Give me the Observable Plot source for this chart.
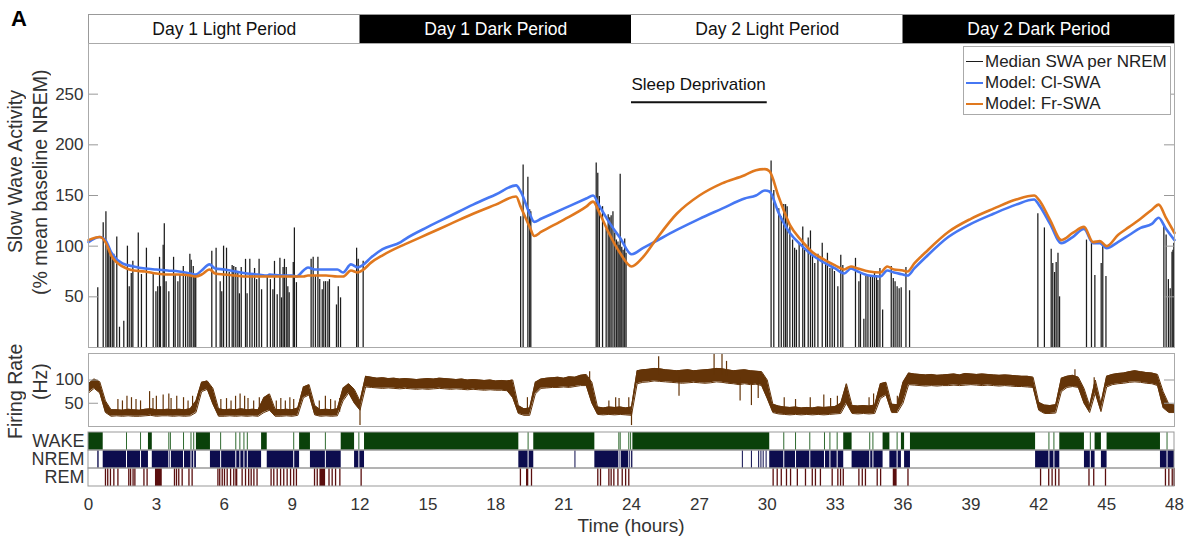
<!DOCTYPE html>
<html><head><meta charset="utf-8">
<script src="https://cdn.jsdelivr.net/npm/d3@7"></script>
<script src="https://cdn.jsdelivr.net/npm/@observablehq/plot@0.6"></script>
<style>
body{margin:0;background:#fff;font-family:"Liberation Sans",Arial,sans-serif;}
#fig{position:relative;width:1195px;height:546px;overflow:hidden;background:#fff;}
.vt{position:absolute;writing-mode:vertical-rl;transform:rotate(180deg);text-align:center;color:#333;white-space:nowrap;}
.lab{position:absolute;color:#333;white-space:nowrap;}
#legend{position:absolute;left:963px;top:46px;width:208px;height:69px;border:1px solid #aaa;background:#fff;box-sizing:border-box;}
#legend .row{position:absolute;left:2px;width:200px;height:20px;font-size:17px;line-height:20px;color:#222;white-space:nowrap;}
#legend .sw{position:absolute;left:0;top:9px;width:17px;height:0;}
#legend .tx{position:absolute;left:19px;top:0;white-space:nowrap;}
</style></head><body><div id="fig"></div>
<script>
// ---------- DATA ----------
const periodStart = [0, 12, 24, 36];
const periodEnd = [12, 24, 36, 48];
const periodLabel = ["Day 1 Light Period", "Day 1 Dark Period", "Day 2 Light Period", "Day 2 Dark Period"];
const periodDark = [false, true, false, true];

const sdStart = 24, sdEnd = 30, sdLabel = "Sleep Deprivation";

const swaTicks = [50, 100, 150, 200, 250];
const rateTicks = [50, 100];
const xTicks = [0, 3, 6, 9, 12, 15, 18, 21, 24, 27, 30, 33, 36, 39, 42, 45, 48];

// Median SWA per NREM episode (time in hours, % of baseline)
const swaT = [0.41,0.65,0.77,0.85,0.9,0.97,1.05,1.12,1.25,1.37,1.56,1.72,1.8,1.89,1.96,2.2,2.34,2.56,2.86,2.98,3.06,3.14,3.18,3.3,3.35,3.43,3.55,3.76,3.83,3.95,4.04,4.19,4.29,4.39,4.48,4.54,4.63,4.7,4.74,
5.45,5.64,5.82,5.89,5.97,6.1,6.22,6.35,6.42,6.51,6.6,6.67,6.75,6.94,7.01,7.13,7.23,7.34,7.43,7.54,7.65,7.9,8.04,8.15,8.22,8.34,8.46,8.53,8.6,8.66,8.74,8.81,8.87,9.05,9.1,9.19,
9.84,9.93,10.03,10.14,10.22,10.33,10.4,10.48,10.58,10.65,10.96,11.04,11.14,11.85,11.92,12.14,
19.1,19.21,19.42,19.5,19.55,22.44,22.51,22.58,22.72,22.88,22.97,23.04,23.1,23.18,23.26,23.33,23.4,23.45,23.5,23.57,23.63,23.7,23.76,
30.17,30.29,30.51,30.62,30.73,30.81,30.88,31.0,31.12,31.21,31.29,31.41,31.57,31.65,31.81,31.91,32.0,32.1,32.24,32.43,32.58,32.66,32.77,32.87,32.97,33.12,33.25,33.34,
33.9,34.05,34.12,34.27,34.36,34.45,34.56,34.65,34.74,34.83,34.89,34.98,35.1,35.48,35.57,35.65,35.74,35.83,35.92,36.13,36.29,
41.96,42.25,42.55,42.62,42.7,42.77,42.85,42.92,44.11,44.33,44.48,44.76,44.83,44.97,47.53,47.63,47.73,47.81,47.89,47.93,47.97];
const swaV = [59,123,134,101,97,90,89,92,109,20,26,100,60,73,85,113,72,98,72,55,60,89,60,101,122,65,55,89,71,65,71,80,71,74,92,86,80,72,71,
95,98,65,55,100,98,74,81,80,79,74,53,79,87,53,87,71,78,67,87,57,71,67,57,85,52,88,49,79,87,79,60,54,84,118,64,
87,89,71,89,67,57,65,65,65,67,42,60,49,98,87,85,
129,180,168,136,134,182,172,149,139,117,131,128,130,134,113,106,104,101,171,99,96,107,93,
184,155,137,129,141,141,139,119,106,98,96,103,119,96,108,115,91,83,92,103,83,93,78,78,75,60,91,81,
88,65,72,28,70,71,71,71,75,71,66,78,37,80,68,65,60,58,59,79,56,
132,118,97,83,74,84,93,50,106,103,71,83,100,70,121,111,67,58,94,96,103];

// Model curves (time in hours)
const modelT = [0,0.5,0.75,1,1.5,2,2.5,3,3.5,4,4.5,4.75,5,5.35,5.6,6,6.5,7,7.5,7.9,8,8.5,9,9.2,9.5,9.7,10,10.5,11,11.25,11.6,11.9,12.1,12.5,13,13.8,14,15,16,17,18,18.9,19.1,19.5,19.7,20,21,22,22.3,22.6,23,23.5,24,24.5,25,26,27,28,29,29.5,29.9,30.1,30.5,31,31.5,32,32.5,33,33.4,33.7,34,34.5,35,35.3,35.6,36,36.2,36.5,37,38,39,40,41,41.8,42,42.5,43,43.5,44,44.4,44.7,45,45.5,46,46.5,47,47.3,47.6,48];
const clSWA = [104,109,106,94,83,80,78,77,76,75,73,72,76,82,78,77,75,73,72,71,72,71,71,70,76,79,77,77,77,74,82,79,81,89,97,104,107,119,130,141,151,160,154,132,124,127,137,147,150,139,124,108,92,98,104,116,127,137,147,150,155,154,133,113,101,91,84,78,73,78,75,71,70,76,74,72,71,78,89,109,122,132,141,146,141,122,103,109,117,103,103,98,104,111,118,122,128,118,106];
const frSWA = [106,109,104,91,80,76,75,73,72,72,71,70,72,77,73,72,71,70,70,70,70,70,70,70,70,71,71,71,70,70,76,74,76,84,91,100,102,112,122,132,141,149,139,119,110,114,126,139,144,132,113,93,80,89,104,132,150,162,170,175,176,174,149,121,106,94,87,81,77,80,78,75,74,80,77,76,75,83,94,114,127,137,146,150,146,126,106,113,119,104,105,100,111,119,127,136,141,129,113];

// Firing rate band, one sample every 0.25 h from 0 to 48 (Hz)
const rateLo = [72,82,72,30,22,23,22,23,22,22,23,24,22,23,23,22,23,22,23,30,
75,80,48,22,22,23,22,23,22,23,22,30,35,22,22,23,22,24,62,68,
25,22,23,22,23,55,72,50,35,
85,84,83,82,83,82,81,82,81,80,81,80,81,82,81,80,81,80,79,80,79,78,79,78,78,77,
62,28,24,24,70,
82,83,84,84,85,84,86,88,88,
50,26,25,26,25,26,25,24,
92,95,96,98,97,96,95,94,93,94,95,94,93,94,96,95,93,92,90,92,90,91,88,60,
30,27,26,25,26,25,26,25,26,25,26,27,28,50,28,27,28,27,28,60,68,30,30,50,
90,89,88,87,88,87,88,88,89,88,89,90,89,88,89,88,87,88,87,86,86,85,84,
35,28,28,29,75,84,86,84,50,30,72,32,85,90,92,93,95,96,95,93,92,88,40,30,30];
const rateHi = [92,102,96,55,36,36,35,37,36,35,37,38,36,36,37,36,37,36,38,55,
95,98,82,38,36,37,36,38,36,37,36,62,70,37,36,37,36,40,85,90,
45,36,37,36,38,82,92,80,55,
108,106,104,105,103,104,102,103,102,101,102,103,102,104,103,102,101,102,100,101,100,99,100,98,99,98,
100,45,38,40,95,
102,104,105,106,104,107,106,110,112,
95,42,40,42,41,42,40,42,
120,122,123,125,124,122,121,120,121,122,120,121,122,123,125,124,122,120,121,122,120,119,118,100,
48,44,42,41,42,40,41,40,42,41,42,43,50,92,45,44,45,44,46,92,95,48,47,95,
115,113,112,111,112,110,111,112,113,111,114,113,112,113,112,111,110,111,110,109,108,108,106,
52,46,45,47,104,108,110,106,82,45,100,50,108,112,114,115,118,120,118,116,115,112,75,48,46];
// brief excursions of the firing rate (time h, extreme Hz)
const rateSpikeT = [1.3,1.5,1.7,1.9,2.1,2.3,2.7,2.85,3.0,3.3,3.55,3.65,3.9,4.2,4.4,4.6,5.85,6.1,6.3,6.5,6.7,6.9,7.05,7.3,7.55,8.3,8.5,8.7,8.9,9.07,10.2,10.47,10.7,10.9,11.1,12.0,19.4,22.15,23.0,23.3,23.45,23.88,24.0,25.2,26.1,27.65,28.0,28.2,28.8,29.3,29.6,30.75,31.25,31.9,32.5,32.8,33.1,34.5,34.7,35.75,35.9,43.6,44.45];
const rateSpikeV = [58,55,65,62,58,55,75,60,65,68,70,60,65,62,55,65,58,60,55,65,70,65,60,55,62,55,60,55,62,58,55,65,58,55,60,2,62,118,55,62,60,62,2,150,65,157,157,140,55,45,60,62,58,62,68,60,65,62,70,65,72,122,105];

// Hypnogram
const stages = ["WAKE", "NREM", "REM"];
const wakeS = [0,2.65,4.77,7.65,9.33,11.17,12.2,19.68,24.06,33.38,35.12,35.93,36.33,42.93,44.49,45.02];
const wakeE = [0.65,2.82,5.39,7.9,9.81,11.76,19.02,22.38,30.11,33.75,35.42,36.07,41.86,44.02,44.77,47.38];
const nremS = [0.41,0.65,2.82,5.39,7.9,9.81,11.76,19.02,22.38,30.11,33.75,35.42,36.07,41.86,44.02,44.77,47.38];
const nremE = [0.47,2.65,4.77,7.65,9.33,11.17,12.2,19.68,24.06,33.38,35.12,35.93,36.33,42.93,44.49,45.02,48];
const wakeTicks = [1.68,2.3,3.55,3.62,4.2,4.53,4.65,5.84,6.51,6.69,6.87,7.02,9.07,10.47,11.95,19.43,23.44,23.5,23.88,23.96,30.73,31.25,31.88,32.53,32.77,33.09,34.53,34.67,35.74,42.45,42.67,44.28,47.67];
const nremTicks = [21.5,28.9,29.3,29.62,29.72,29.82,29.95];
const remS = [2.96,6.51,10.23,19.36,35.57];
const remE = [3.26,6.6,10.48,19.46,35.74];
const remTicks = [0.75,0.85,0.97,1.12,1.3,1.78,1.86,1.97,2.05,2.45,2.59,3.8,3.89,3.99,4.14,4.44,4.58,5.72,5.8,5.91,6.01,6.13,6.28,6.42,6.79,6.94,7.08,7.19,7.31,7.45,8.07,8.19,8.34,8.49,8.63,8.78,8.93,9.07,9.19,9.99,10.11,10.63,10.77,10.92,11.11,12.05,19.09,19.58,22.51,22.63,23.0,23.1,23.22,23.4,23.59,23.74,23.88,30.26,30.44,30.62,30.85,31.03,31.33,31.69,31.99,32.13,32.35,32.87,33.12,33.24,33.36,34.05,34.2,34.34,34.86,35.01,36.22,42.08,42.44,42.59,42.74,42.89,44.22,44.43,44.95,47.6,47.75,47.9,47.98];

const legendLabels = ["Median SWA per NREM", "Model: Cl-SWA", "Model: Fr-SWA"];

// ---------- STYLE ----------
const C = {bar: "#1c1c1c", cl: "#4677f3", fr: "#e0781e", rate: "#643408", wake: "#0a410a", wakeTick: "#2f6a2f",
  nrem: "#0c0c4e", rem: "#5a0e0e", frame: "#aaa", text: "#333"};
const fig = document.getElementById("fig");
const W = 1195, ML = 88, MR = 21, XMAX = 48;
const tickLen = 10 * XMAX / (W - ML - MR); // 10 px inward ticks, in hours
const baseStyle = {fontFamily: '"Liberation Sans", Arial, sans-serif', fontSize: "17px", color: C.text, background: "transparent", overflow: "visible"};
const base = {width: W, marginLeft: ML, marginRight: MR, style: baseStyle};

function place(node, top) {
  node.style.position = "absolute"; node.style.left = "0px"; node.style.top = top + "px";
  fig.appendChild(node);
}
function vtext(txt, cx, cy, size) {
  const d = document.createElement("div");
  d.className = "vt"; d.textContent = txt;
  const lh = Math.round(size * 1.2), H = 340;
  Object.assign(d.style, {left: (cx - lh / 2) + "px", top: (cy - H / 2) + "px", height: H + "px", width: lh + "px", lineHeight: lh + "px", fontSize: size + "px"});
  fig.appendChild(d);
}
function label(txt, left, top, size, extra) {
  const d = document.createElement("div");
  d.className = "lab"; d.textContent = txt;
  Object.assign(d.style, {left: left + "px", top: top + "px", fontSize: size + "px", lineHeight: size + "px"}, extra || {});
  fig.appendChild(d);
  return d;
}

// ---------- PANEL: period band ----------
const periods = periodLabel.map((l, i) => ({label: l, s: periodStart[i], e: periodEnd[i], dark: periodDark[i]}));
place(Plot.plot({
  ...base, height: 29, marginTop: 0, marginBottom: 0,
  x: {domain: [0, XMAX], axis: null},
  marks: [
    Plot.rect(periods.filter(d => d.dark), {x1: "s", x2: "e", fill: "#000"}),
    Plot.text(periods.filter(d => !d.dark), {x: d => (d.s + d.e) / 2, text: "label", fill: "#111", fontSize: 17.5}),
    Plot.text(periods.filter(d => d.dark), {x: d => (d.s + d.e) / 2, text: "label", fill: "#fff", fontSize: 17.5}),
    Plot.frame({stroke: "#999"})
  ]
}), 14);

// ---------- PANEL: SWA ----------
const swa = swaT.map((t, i) => ({t, v: swaV[i]}));
const model = modelT.map((t, i) => ({t, cl: clSWA[i], fr: frSWA[i]}));
place(Plot.plot({
  ...base, height: 304, marginTop: 0, marginBottom: 0,
  x: {domain: [0, XMAX], axis: null},
  y: {domain: [0, 300], ticks: swaTicks, tickSize: 0, tickPadding: 5, label: null},
  marks: [
    Plot.ruleX(swa, {x: "t", y1: 0, y2: "v", stroke: C.bar, strokeWidth: 1.25}),
    Plot.line(model, {x: "t", y: "cl", stroke: C.cl, strokeWidth: 2.6, curve: "monotone-x"}),
    Plot.line(model, {x: "t", y: "fr", stroke: C.fr, strokeWidth: 2.6, curve: "monotone-x"}),
    Plot.ruleY(swaTicks, {x1: 0, x2: tickLen, stroke: "#999"}),
    Plot.ruleY(swaTicks, {x1: XMAX - tickLen, x2: XMAX, stroke: "#999"}),
    Plot.ruleY([242], {x1: sdStart, x2: sdEnd, stroke: "#111", strokeWidth: 2}),
    Plot.text([sdLabel], {x: sdStart, y: 259, text: d => d, textAnchor: "start", fill: "#111", fontSize: 17}),
    Plot.frame({stroke: C.frame})
  ]
}), 43);

// ---------- PANEL: firing rate ----------
const rate = rateLo.map((lo, i) => ({t: i / 4, lo, hi: rateHi[i]}));
const spikes = rateSpikeT.map((t, i) => {
  const r = rate[Math.round(t * 4)], mid = (r.lo + r.hi) / 2, v = rateSpikeV[i];
  return {t, y1: Math.min(mid, v), y2: Math.max(mid, v)};
});
place(Plot.plot({
  ...base, height: 73, marginTop: 0, marginBottom: 0,
  x: {domain: [0, XMAX], axis: null},
  y: {domain: [0, 157], ticks: rateTicks, tickSize: 0, tickPadding: 5, label: null},
  marks: [
    Plot.areaY(rate, {x: "t", y1: "lo", y2: "hi", fill: C.rate}),
    Plot.line(rate, {x: "t", y: "hi", stroke: C.rate, strokeWidth: 1}),
    Plot.line(rate, {x: "t", y: "lo", stroke: C.rate, strokeWidth: 1}),
    Plot.ruleX(spikes, {x: "t", y1: "y1", y2: "y2", stroke: C.rate, strokeWidth: 1.2}),
    Plot.ruleY(rateTicks, {x1: 0, x2: tickLen, stroke: "#999"}),
    Plot.ruleY(rateTicks, {x1: XMAX - tickLen, x2: XMAX, stroke: "#999"}),
    Plot.frame({stroke: C.frame})
  ]
}), 353);

// ---------- PANEL: hypnogram ----------
const wake = wakeS.map((s, i) => ({s, e: wakeE[i]}));
const nrem = nremS.map((s, i) => ({s, e: nremE[i]}));
const remB = remS.map((s, i) => ({s, e: remE[i]}));
place(Plot.plot({
  ...base, height: 95, marginTop: 0, marginBottom: 40,
  x: {domain: [0, XMAX], ticks: xTicks, tickSize: 0, tickPadding: 11, label: null},
  y: {domain: stages, padding: 0, axis: null},
  marks: [
    Plot.barX(wake, {x1: "s", x2: "e", y: () => "WAKE", fill: C.wake}),
    Plot.tickX(wakeTicks, {x: d => d, y: () => "WAKE", stroke: C.wakeTick, strokeWidth: 1}),
    Plot.barX(nrem, {x1: "s", x2: "e", y: () => "NREM", fill: C.nrem}),
    Plot.tickX(wakeTicks, {x: d => d, y: () => "NREM", stroke: "#fff", strokeWidth: 1}),
    Plot.tickX(nremTicks, {x: d => d, y: () => "NREM", stroke: C.nrem, strokeWidth: 1}),
    Plot.barX(remB, {x1: "s", x2: "e", y: () => "REM", fill: C.rem}),
    Plot.tickX(remTicks, {x: d => d, y: () => "REM", stroke: C.rem, strokeWidth: 1.3}),
    Plot.barX(stages, {x1: 0, x2: XMAX, y: d => d, fill: "none", stroke: "#999"}),
    Plot.text(stages, {y: d => d, text: d => d, frameAnchor: "left", textAnchor: "end", dx: -4, fontSize: 18, fill: C.text})
  ]
}), 431);

// ---------- titles & annotations ----------
label("A", 11, 8, 22, {fontWeight: "bold", color: "#000"});
vtext("Slow Wave Activity", 15, 172, 19.5);
vtext("(% mean baseline NREM)", 40, 182, 19.5);
vtext("Firing Rate", 15, 391, 19.5);
vtext("(Hz)", 40, 382, 19.5);
const tl = label("Time (hours)", 0, 516, 19);
tl.style.left = (ML + (W - ML - MR) / 2) + "px";
tl.style.transform = "translateX(-50%)";

// legend
const lg = document.createElement("div");
lg.id = "legend";
const legColors = [C.bar, C.cl, C.fr], legWidth = [1.2, 2.5, 2.5];
legendLabels.forEach((l, i) => {
  const r = document.createElement("div");
  r.className = "row"; r.style.top = (5 + i * 21) + "px";
  const sw = document.createElement("div");
  sw.className = "sw"; sw.style.borderTop = legWidth[i] + "px solid " + legColors[i];
  const tx = document.createElement("div");
  tx.className = "tx"; tx.textContent = l;
  r.appendChild(sw); r.appendChild(tx); lg.appendChild(r);
});
fig.appendChild(lg);
</script></body></html>
